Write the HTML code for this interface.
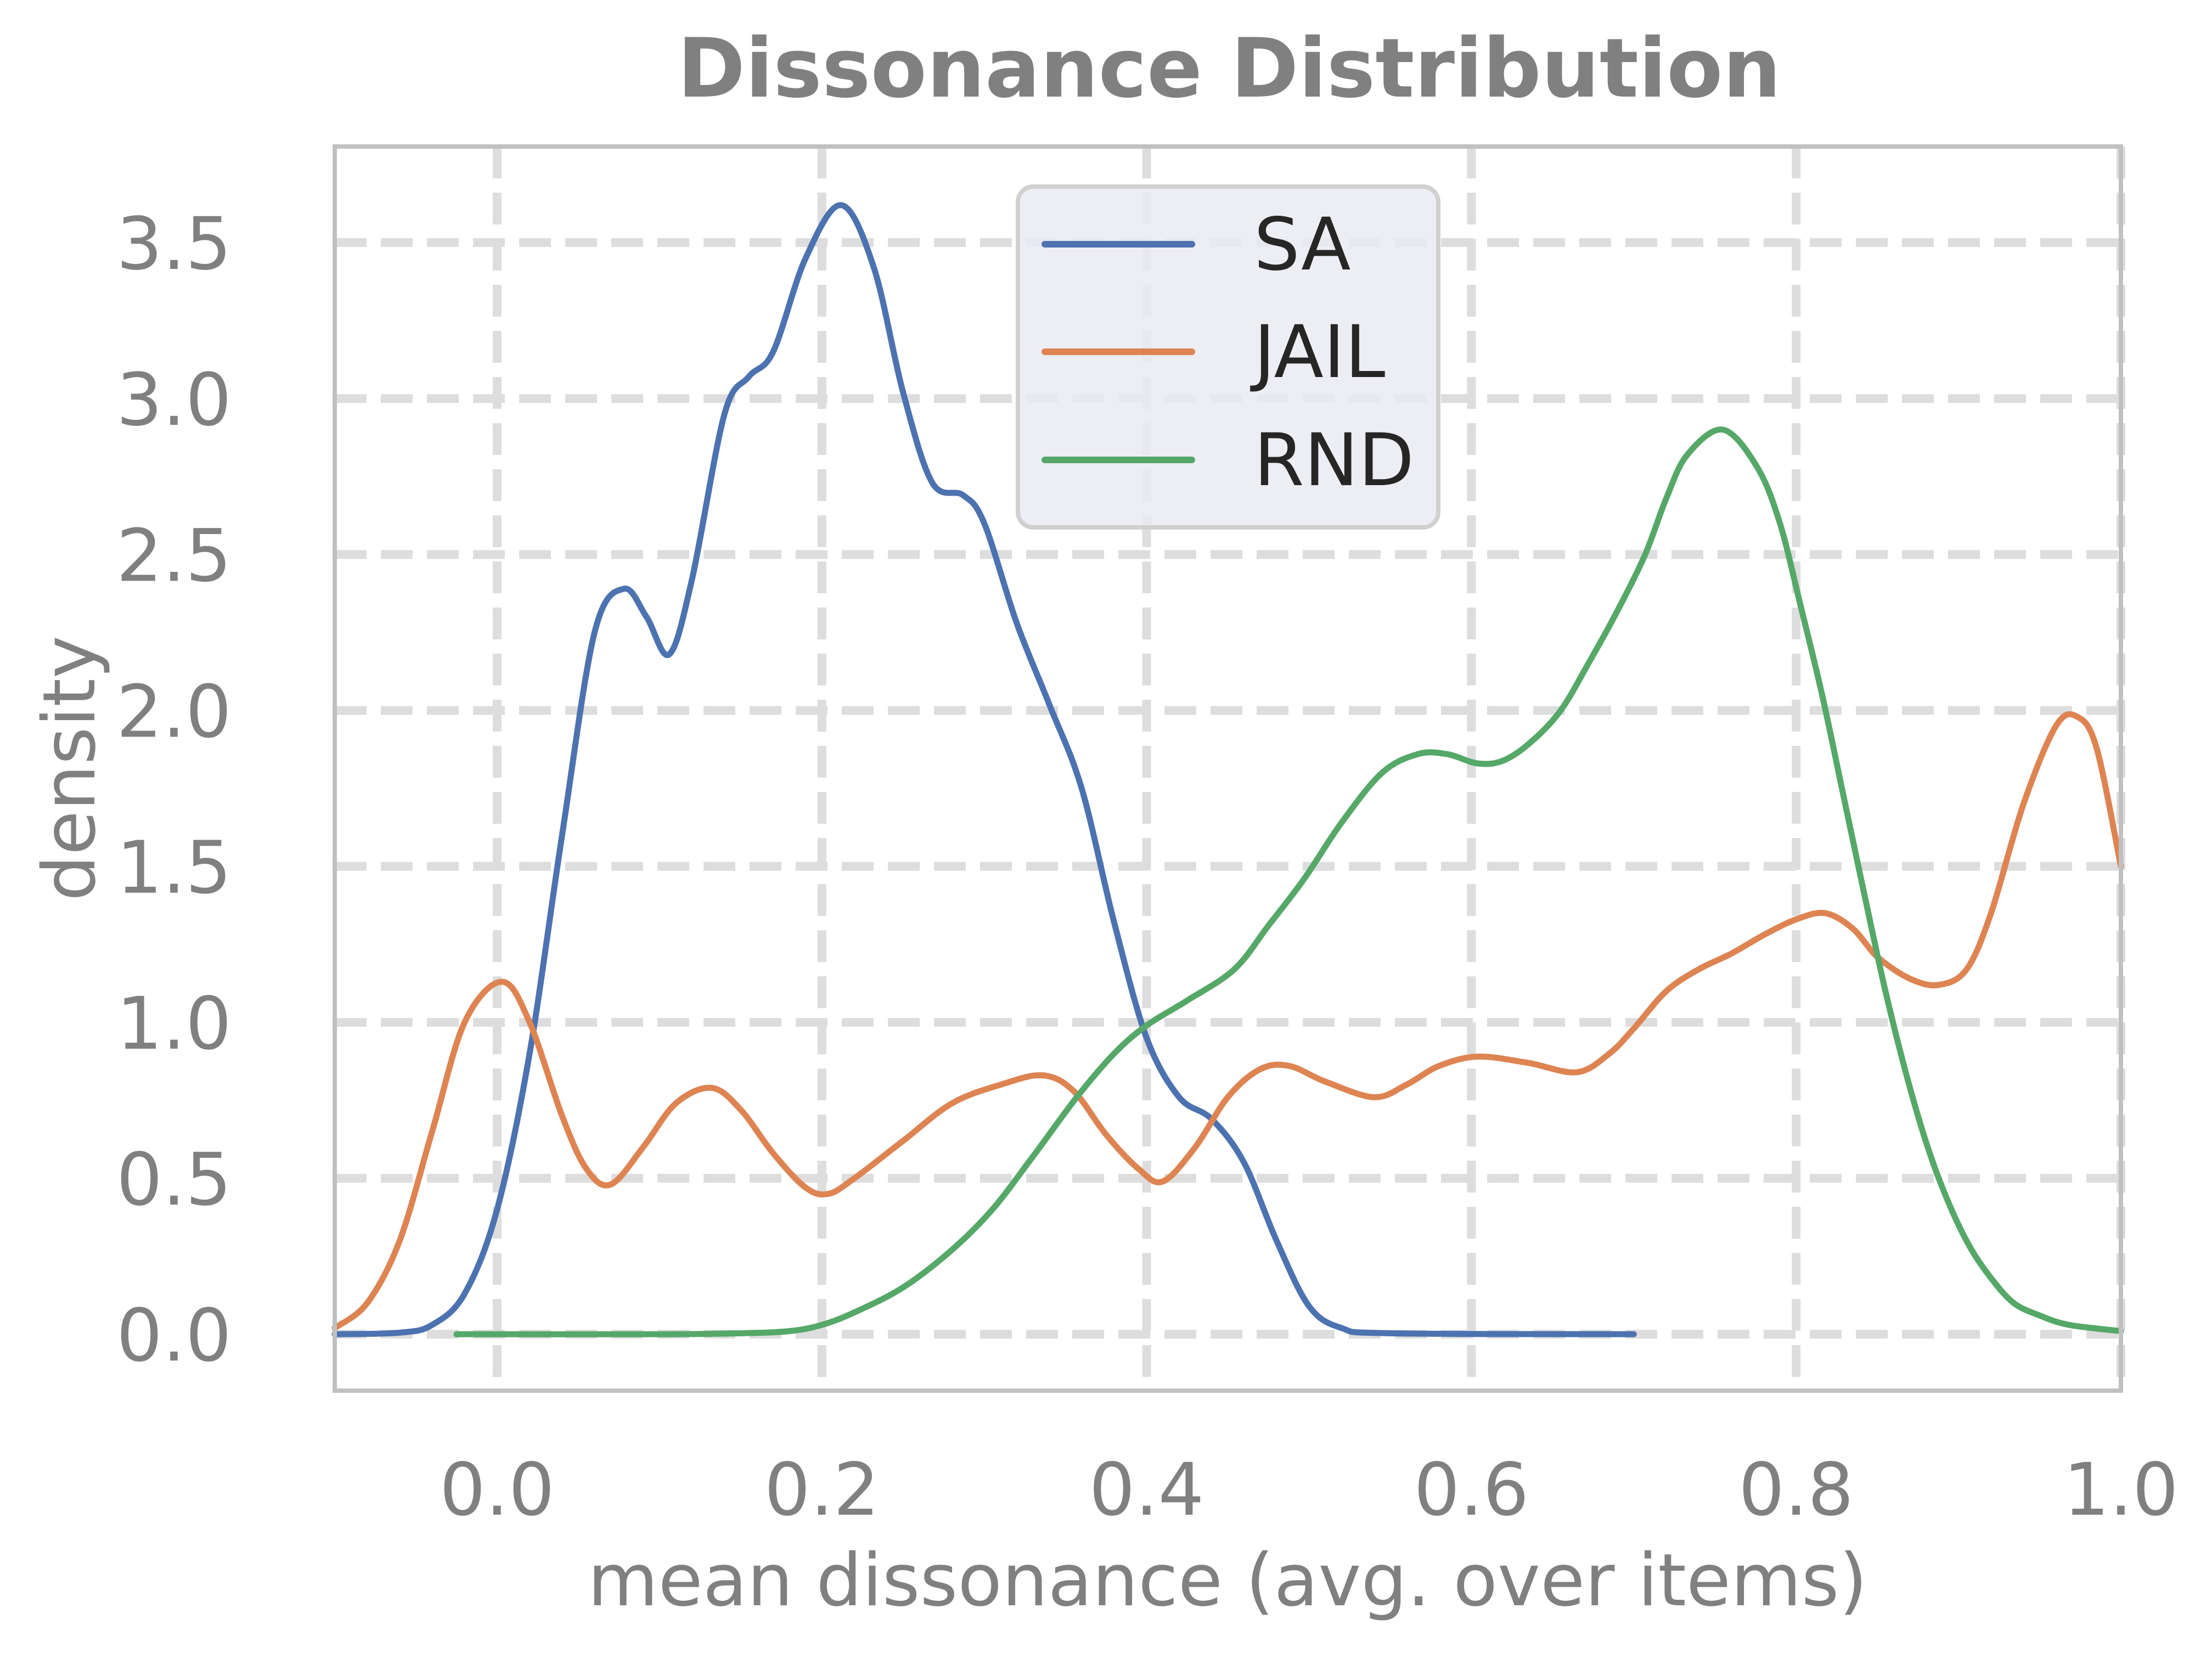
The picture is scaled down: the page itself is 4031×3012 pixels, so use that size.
<!DOCTYPE html>
<html><head><meta charset="utf-8">
<style>
html,body{margin:0;padding:0;background:#fff;}
svg{display:block;}
text{font-family:"DejaVu Sans","Liberation Sans",sans-serif;}
</style></head>
<body>
<svg id="chart" width="4031" height="3012" viewBox="0 0 4031 3012" xmlns="http://www.w3.org/2000/svg">
<rect x="0" y="0" width="4031" height="3012" fill="#ffffff"/>
<g id="grid"></g>
<g id="series"></g>
<rect x="610" y="267" width="3255" height="2267" fill="none" stroke="#c0c0c0" stroke-width="8"/>
<g id="ticks"></g>
<text x="2240" y="176" text-anchor="middle" font-size="149" font-weight="bold" fill="#808080">Dissonance Distribution</text>
<text x="2237" y="2925" text-anchor="middle" font-size="132" fill="#808080">mean dissonance (avg. over items)</text>
<text x="0" y="0" transform="translate(172,1400) rotate(-90)" text-anchor="middle" font-size="132" fill="#808080">density</text>
<g id="legend">
<rect x="1855" y="340" width="766" height="621" rx="28" fill="#eaeaf2" fill-opacity="0.85" stroke="#d0d0d0" stroke-width="8"/>
<line x1="1904" y1="445" x2="2172" y2="445" stroke="#4c72b0" stroke-width="12" stroke-linecap="round"/>
<text x="2285" y="491" font-size="132" fill="#262626">SA</text>
<line x1="1904" y1="641" x2="2172" y2="641" stroke="#dd8452" stroke-width="12" stroke-linecap="round"/>
<text x="2285" y="687" font-size="132" fill="#262626">JAIL</text>
<line x1="1904" y1="838" x2="2172" y2="838" stroke="#55a868" stroke-width="12" stroke-linecap="round"/>
<text x="2285" y="884" font-size="132" fill="#262626">RND</text>
</g>
</svg>
<script>
const xTicks = [0.0, 0.2, 0.4, 0.6, 0.8, 1.0];
const xTickLabels = ["0.0", "0.2", "0.4", "0.6", "0.8", "1.0"];
const yTicks = [0.0, 0.5, 1.0, 1.5, 2.0, 2.5, 3.0, 3.5];
const yTickLabels = ["0.0", "0.5", "1.0", "1.5", "2.0", "2.5", "3.0", "3.5"];

const saX = [-0.1,-0.06,-0.04,-0.02,0.0,0.02,0.04,0.06,0.078,0.092,0.106,0.12,0.14,0.155,0.17,0.19,0.212,0.232,0.25,0.268,0.287,0.30,0.32,0.34,0.36,0.38,0.40,0.42,0.44,0.46,0.48,0.50,0.52,0.55,0.7];
const saY = [0.0,0.005,0.03,0.13,0.4,0.9,1.6,2.25,2.39,2.3,2.18,2.42,2.95,3.07,3.15,3.45,3.62,3.42,3.02,2.73,2.69,2.6,2.28,2.02,1.75,1.32,0.95,0.76,0.69,0.55,0.3,0.09,0.02,0.003,0.0];

const jailX = [-0.1,-0.08,-0.06,-0.04,-0.02,0.003,0.02,0.04,0.055,0.07,0.09,0.11,0.132,0.15,0.17,0.19,0.204,0.22,0.25,0.28,0.31,0.336,0.355,0.375,0.395,0.41,0.43,0.45,0.47,0.488,0.51,0.54,0.56,0.58,0.604,0.635,0.665,0.685,0.70,0.72,0.74,0.76,0.78,0.80,0.818,0.835,0.85,0.87,0.888,0.905,0.92,0.94,0.96,0.973,0.985,1.0];
const jailY = [0.02,0.1,0.3,0.65,1.0,1.13,1.0,0.7,0.53,0.48,0.6,0.74,0.79,0.72,0.58,0.47,0.45,0.5,0.62,0.74,0.8,0.83,0.78,0.64,0.53,0.49,0.6,0.76,0.85,0.86,0.81,0.76,0.8,0.86,0.89,0.87,0.84,0.9,0.98,1.1,1.17,1.22,1.28,1.33,1.35,1.3,1.21,1.14,1.12,1.17,1.35,1.7,1.95,1.98,1.88,1.5];

const rndX = [-0.025,0.1,0.15,0.18,0.2,0.22,0.25,0.28,0.305,0.33,0.357,0.38,0.40,0.425,0.454,0.475,0.497,0.52,0.545,0.567,0.585,0.604,0.62,0.637,0.655,0.672,0.69,0.707,0.72,0.733,0.755,0.776,0.79,0.803,0.816,0.829,0.842,0.855,0.868,0.881,0.894,0.907,0.92,0.934,0.95,0.968,1.0];
const rndY = [0.0,0.0,0.003,0.01,0.03,0.07,0.15,0.27,0.4,0.57,0.76,0.9,0.99,1.07,1.17,1.31,1.46,1.64,1.8,1.86,1.86,1.83,1.84,1.9,2.0,2.15,2.32,2.5,2.68,2.82,2.9,2.78,2.6,2.33,2.05,1.73,1.41,1.1,0.83,0.6,0.42,0.28,0.18,0.1,0.06,0.03,0.01];

const X0 = 610, X1 = 3865, Y0 = 2534, Y1 = 267;
const xMin = -0.1, xMax = 1.0, yMin = -0.181, yMax = 3.808;
function xScale(v){ return X0 + (v - xMin) / (xMax - xMin) * (X1 - X0); }
function yScale(v){ return Y0 - (v - yMin) / (yMax - yMin) * (Y0 - Y1); }
const NS = "http://www.w3.org/2000/svg";

const grid = document.getElementById('grid');
xTicks.forEach((t, i) => {
  const l = document.createElementNS(NS, 'line');
  
  
  l.setAttribute('x1', xScale(t)); l.setAttribute('x2', xScale(t));
  l.setAttribute('y1', Y1); l.setAttribute('y2', Y0);
  l.setAttribute('stroke', '#dddddd'); l.setAttribute('stroke-width', '16');
  l.setAttribute('stroke-dasharray', '58 26');
  grid.appendChild(l);
});
yTicks.forEach((t, i) => {
  const l = document.createElementNS(NS, 'line');
  
  
  l.setAttribute('x1', X0); l.setAttribute('x2', X1);
  l.setAttribute('y1', yScale(t)); l.setAttribute('y2', yScale(t));
  l.setAttribute('stroke', '#dddddd'); l.setAttribute('stroke-width', '16');
  l.setAttribute('stroke-dasharray', '58 26');
  grid.appendChild(l);
});

const ticks = document.getElementById('ticks');
xTicks.forEach((t, i) => {
  const tx = document.createElementNS(NS, 'text');
  
  
  tx.setAttribute('x', xScale(t)); tx.setAttribute('y', 2760);
  tx.setAttribute('text-anchor', 'middle'); tx.setAttribute('font-size', '132');
  tx.setAttribute('fill', '#808080');
  tx.textContent = xTickLabels[i];
  ticks.appendChild(tx);
});
yTicks.forEach((t, i) => {
  const tx = document.createElementNS(NS, 'text');
  
  
  tx.setAttribute('x', 422); tx.setAttribute('y', yScale(t) + 48);
  tx.setAttribute('text-anchor', 'end'); tx.setAttribute('font-size', '132');
  tx.setAttribute('fill', '#808080');
  tx.textContent = yTickLabels[i];
  ticks.appendChild(tx);
});

function smoothPath(xs, ys){
  const p = xs.map((x, i) => [xScale(x), yScale(ys[i])]);
  let d = 'M' + p[0][0].toFixed(1) + ',' + p[0][1].toFixed(1);
  for (let i = 0; i < p.length - 1; i++){
    const p0 = p[Math.max(i - 1, 0)], p1 = p[i], p2 = p[i + 1], p3 = p[Math.min(i + 2, p.length - 1)];
    const c1x = p1[0] + (p2[0] - p0[0]) / 6, c1y = p1[1] + (p2[1] - p0[1]) / 6;
    const c2x = p2[0] - (p3[0] - p1[0]) / 6, c2y = p2[1] - (p3[1] - p1[1]) / 6;
    d += ' C' + c1x.toFixed(1) + ',' + c1y.toFixed(1) + ' ' + c2x.toFixed(1) + ',' + c2y.toFixed(1) + ' ' + p2[0].toFixed(1) + ',' + p2[1].toFixed(1);
  }
  return d;
}
const seriesG = document.getElementById('series');
function addSeries(xs, ys, color, name){
  const path = document.createElementNS(NS, 'path');
  
  
  path.setAttribute('d', smoothPath(xs, ys));
  path.setAttribute('fill', 'none');
  path.setAttribute('stroke', color);
  path.setAttribute('stroke-width', '11');
  path.setAttribute('stroke-linecap', 'round');
  path.setAttribute('stroke-linejoin', 'round');
  seriesG.appendChild(path);
}
addSeries(saX, saY, '#4c72b0', 'sa-density-line');
addSeries(jailX, jailY, '#dd8452', 'jail-density-line');
addSeries(rndX, rndY, '#55a868', 'rnd-density-line');
</script>
</body></html>
